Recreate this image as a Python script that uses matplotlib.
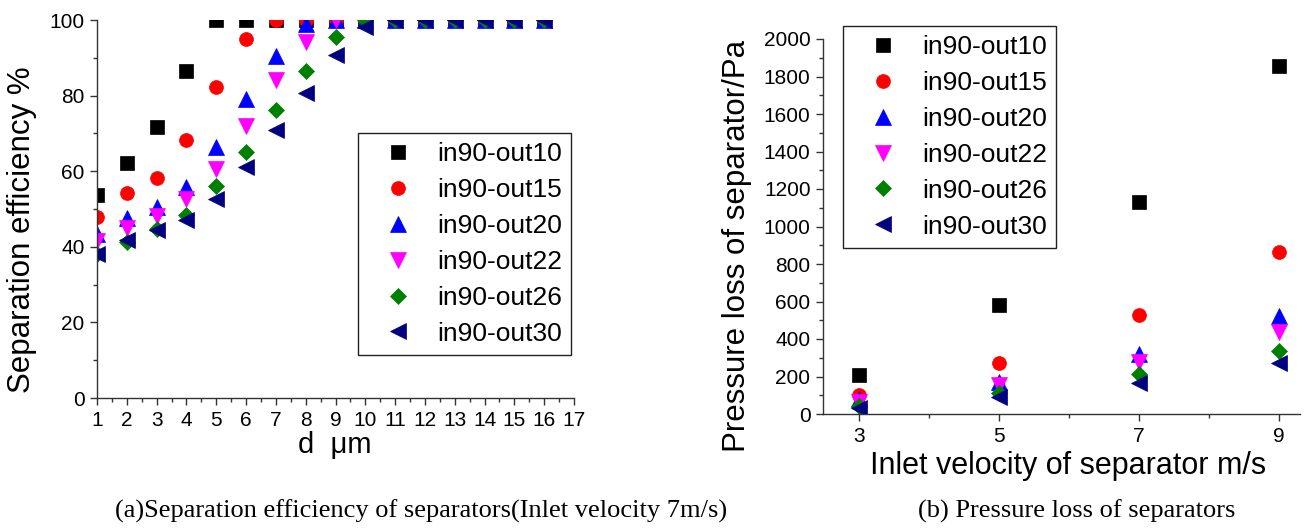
import numpy as np
import matplotlib
matplotlib.use("Agg")
import matplotlib.pyplot as plt
from matplotlib.ticker import MultipleLocator

plt.rcParams['font.family'] = ['Liberation Sans', 'DejaVu Sans']

# ==========================================
# 1. data
# ==========================================
series_labels = ["in90-out10", "in90-out15", "in90-out20", "in90-out22", "in90-out26", "in90-out30"]
colors = ['#000000', '#FF0000', '#0000FF', '#FF00FF', '#008000', '#000080']
markers = ['s', 'o', '^', 'v', 'D', '<']
msizes = [9.5, 10, 11, 11, 7.8, 11]

# (a) separation efficiency vs particle size d (um), inlet velocity 7 m/s
d_um = list(range(1, 17))
eff_out10 = [53.7, 62.2, 71.6, 86.6, 100, 100, 100, 100, 100, 100, 100, 100, 100, 100, 100, 100]
eff_out15 = [47.8, 54.2, 58.3, 68.2, 82.3, 95.0, 100, 100, 100, 100, 100, 100, 100, 100, 100, 100]
eff_out20 = [43.5, 47.5, 50.6, 55.9, 66.5, 79.0, 90.5, 99.0, 100, 100, 100, 100, 100, 100, 100, 100]
eff_out22 = [41.6, 45.0, 48.1, 52.6, 60.7, 71.9, 84.0, 94.3, 100, 100, 100, 100, 100, 100, 100, 100]
eff_out26 = [38.2, 41.4, 44.6, 48.3, 56.0, 65.1, 76.1, 86.6, 95.6, 100, 100, 100, 100, 100, 100, 100]
eff_out30 = [38.0, 41.7, 44.4, 47.2, 52.7, 61.2, 71.0, 80.8, 90.7, 98.2, 100, 100, 100, 100, 100, 100]

# (b) pressure loss (Pa) vs inlet velocity (m/s)
v_in = [3, 5, 7, 9]
dp_out10 = [207, 584, 1131, 1856]
dp_out15 = [103, 274, 528, 866]
dp_out20 = [78, 172, 322, 525]
dp_out22 = [64, 153, 279, 439]
dp_out26 = [41, 110, 213, 338]
dp_out30 = [34, 91, 167, 270]

eff_all = [eff_out10, eff_out15, eff_out20, eff_out22, eff_out26, eff_out30]
dp_all = [dp_out10, dp_out15, dp_out20, dp_out22, dp_out26, dp_out30]

# ==========================================
# 2. figure layout (pixel positions measured on the reference)
# ==========================================
W, H = 1312, 530
fig = plt.figure(figsize=(W / 100, H / 100), dpi=100)

def box(l, t, r, b):
    return [l / W, 1 - b / H, (r - l) / W, (b - t) / H]

ax1 = fig.add_axes(box(97, 20, 574, 398))
ax2 = fig.add_axes(box(823, 39, 1300, 414))

def style_axis(ax):
    for side in ['top', 'right']:
        ax.spines[side].set_visible(False)
    for side in ['left', 'bottom']:
        ax.spines[side].set_linewidth(1.0)
        ax.spines[side].set_color('#333333')
    ax.tick_params(which='major', direction='out', length=5, width=1.0,
                   labelsize=15, pad=4, color='#333333')
    ax.tick_params(which='minor', direction='out', length=3, width=1.0, color='#333333')

# --- (a) ---
for y, lab, c, m, ms in zip(eff_all, series_labels, colors, markers, msizes):
    ax1.plot(d_um, y, linestyle='none', marker=m, color=c, markersize=ms, mew=0.5, label=lab)
ax1.set_xlim(1, 17)
ax1.set_ylim(0, 100)
ax1.xaxis.set_major_locator(MultipleLocator(1))
ax1.xaxis.set_minor_locator(MultipleLocator(0.5))
ax1.yaxis.set_major_locator(MultipleLocator(20))
ax1.yaxis.set_minor_locator(MultipleLocator(10))
style_axis(ax1)
ax1.set_ylabel("Separation efficiency %", fontsize=22.5)
ax1.yaxis.set_label_coords(-0.126, 0.444)
ax1.set_xlabel("d  μm", fontsize=21)
ax1.xaxis.set_label_coords(0.499, -0.087)

leg_kw = dict(fontsize=19, frameon=True, fancybox=False, framealpha=1, edgecolor='#222222',
              borderpad=0.35, handlelength=2.3, handletextpad=0.35, labelspacing=0.45,
              loc='upper left', borderaxespad=0, bbox_transform=fig.transFigure)
leg1 = ax1.legend(bbox_to_anchor=(358 / W, 1 - 133 / H), **leg_kw)
leg1.get_frame().set_linewidth(1.0)

# --- (b) ---
for y, lab, c, m, ms in zip(dp_all, series_labels, colors, markers, msizes):
    ax2.plot(v_in, y, linestyle='none', marker=m, color=c, markersize=ms, mew=0.5, label=lab)
ax2.set_xlim(2.49, 9.3)
ax2.set_ylim(0, 2000)
ax2.set_xticks(v_in)
ax2.xaxis.set_minor_locator(MultipleLocator(1))
ax2.yaxis.set_major_locator(MultipleLocator(200))
ax2.yaxis.set_minor_locator(MultipleLocator(100))
style_axis(ax2)
ax2.set_ylabel("Pressure loss of separator/Pa", fontsize=22.5)
ax2.yaxis.set_label_coords(-0.149, 0.447)
ax2.set_xlabel("Inlet velocity of separator m/s", fontsize=22)
ax2.xaxis.set_label_coords(0.514, -0.099)
leg2 = ax2.legend(bbox_to_anchor=(843 / W, 1 - 26 / H), **leg_kw)
leg2.get_frame().set_linewidth(1.0)

# --- captions under the panels ---
fig.text(421 / W, 1 - 511 / H, "(a)Separation efficiency of separators(Inlet velocity 7m/s)",
         family='Liberation Serif', fontsize=19, ha='center', va='center')
fig.text(1077 / W, 1 - 511 / H, "(b) Pressure loss of separators",
         family='Liberation Serif', fontsize=19, ha='center', va='center')

fig.savefig("out.png", dpi=100)
